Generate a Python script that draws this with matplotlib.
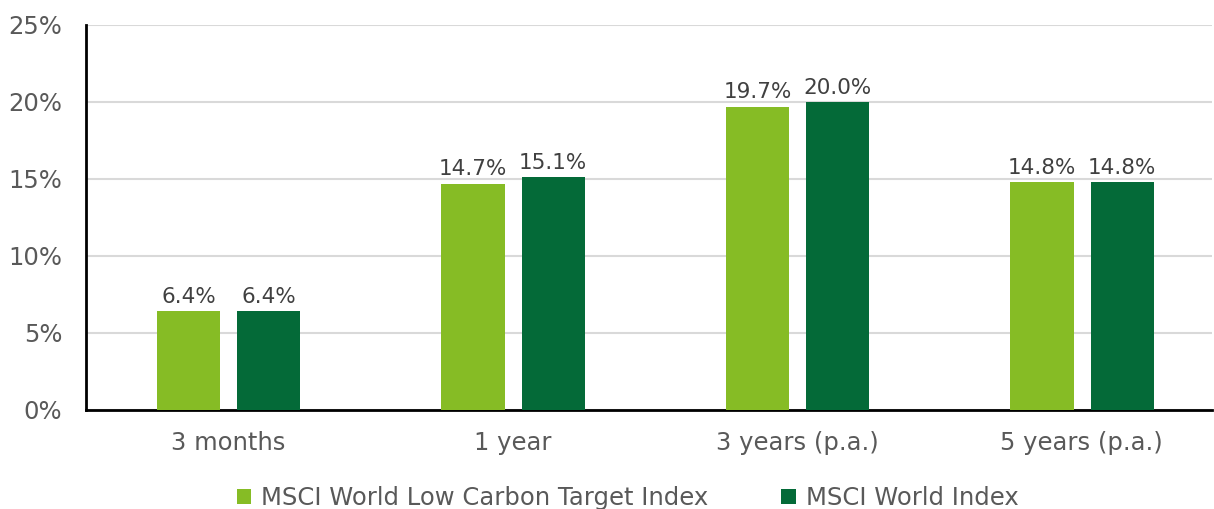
import numpy as np
import matplotlib
matplotlib.use("Agg")
import matplotlib.pyplot as plt

# data
periods = ["3 months", "1 year", "3 years (p.a.)", "5 years (p.a.)"]
low_carbon = [6.4, 14.7, 19.7, 14.8]
world = [6.4, 15.1, 20.0, 14.8]
series_names = ["MSCI World Low Carbon Target Index", "MSCI World Index"]

light_green = "#86BC25"
dark_green = "#046A38"
text_grey = "#595959"

plt.rcParams['font.family'] = ['DejaVu Sans']

fig = plt.figure(figsize=(12.14, 5.09), dpi=100)
ax = fig.add_axes([0.0708, 0.1945, 0.9272, 0.7565])

x = np.arange(len(periods))
width = 0.222
b1 = ax.bar(x - 0.14, low_carbon, width, color=light_green, label=series_names[0], zorder=3)
b2 = ax.bar(x + 0.142, world, width, color=dark_green, label=series_names[1], zorder=3)

# value labels above bars
for bars in (b1, b2):
    for rect in bars:
        h = rect.get_height()
        ax.annotate(f"{h:.1f}%", (rect.get_x() + rect.get_width() / 2, h),
                    xytext=(0, 3), textcoords="offset points",
                    ha="center", va="bottom", fontsize=15.5, color="#404040")

ax.set_xlim(-0.5, 3.456)
ax.set_ylim(0, 25)
ax.set_yticks([0, 5, 10, 15, 20, 25])
ax.set_yticklabels([f"{v}%" for v in [0, 5, 10, 15, 20, 25]])
ax.set_xticks(x)
ax.set_xticklabels(periods)

ax.tick_params(axis="both", length=0, labelsize=17.5, labelcolor=text_grey)
ax.tick_params(axis="y", pad=17)
ax.tick_params(axis="x", pad=15)

ax.yaxis.grid(True, color="#D9D9D9", linewidth=1.5, zorder=0)
ax.set_axisbelow(True)
for side in ["top", "right"]:
    ax.spines[side].set_visible(False)
ax.spines["left"].set_linewidth(2)
ax.spines["bottom"].set_linewidth(2)
ax.spines["left"].set_color("black")
ax.spines["bottom"].set_color("black")

leg = fig.legend(loc="lower center", bbox_to_anchor=(0.517, -0.045), ncol=2,
                 frameon=False, fontsize=17.5, handlelength=0.6, handleheight=0.6,
                 handletextpad=0.4, columnspacing=3.0)
for t in leg.get_texts():
    t.set_color(text_grey)

fig.savefig("out.png", dpi=100)
